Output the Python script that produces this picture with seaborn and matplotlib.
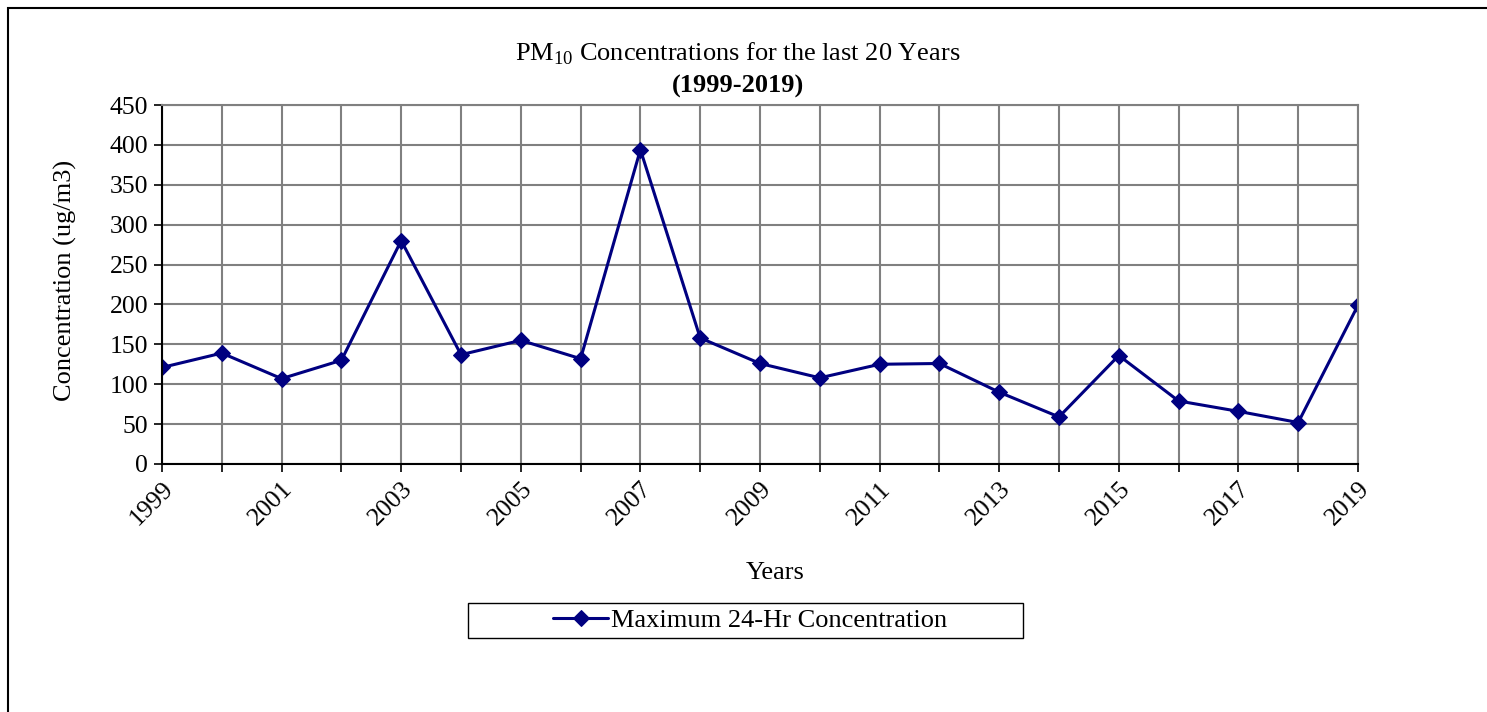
import matplotlib
matplotlib.use("Agg")
import matplotlib.pyplot as plt
import seaborn as sns
import pandas as pd
from matplotlib.patches import Rectangle

years = list(range(1999, 2020))
max_24hr = [121, 139, 107, 130, 280, 137, 155, 132, 394, 158, 126,
            108, 125, 126, 90, 59, 136, 79, 66, 52, 199]
series_label = "Maximum 24-Hr Concentration"

df = pd.DataFrame({"Year": years, "Conc": max_24hr})

sns.set_style("white")
plt.rcParams["font.family"] = ["Liberation Serif", "DejaVu Serif"]
plt.rcParams["mathtext.fontset"] = "custom"
plt.rcParams["mathtext.rm"] = "Liberation Serif"
plt.rcParams["text.color"] = "black"
plt.rcParams["axes.labelcolor"] = "black"
plt.rcParams["xtick.color"] = "black"
plt.rcParams["ytick.color"] = "black"

W, H = 1487, 712
fig = plt.figure(figsize=(W / 100, H / 100), dpi=100)
ax = fig.add_axes([162 / W, 1 - 464 / H, (1358 - 162) / W, (464 - 105) / H])

sns.lineplot(data=df, x="Year", y="Conc", ax=ax, color="#000080", linewidth=2.2,
             marker="D", markersize=8, markeredgecolor="#000080", label=series_label)

ax.set_xlim(1999, 2019)
ax.set_ylim(0, 450)
ax.set_yticks(range(0, 451, 50))
ax.set_xticks(years)
ax.set_xticklabels([str(y) if (y - 1999) % 2 == 0 else "" for y in years],
                   rotation=45, ha="right", rotation_mode="anchor")
ax.grid(True, color="#808080", linewidth=1.5)
ax.set_axisbelow(True)
ax.tick_params(axis="both", direction="out", length=6, width=1.2, colors="black",
               labelsize=18.5, bottom=True, left=True, pad=4)
for s in ["left", "bottom"]:
    ax.spines[s].set_color("black")
    ax.spines[s].set_linewidth(1.5)
for s in ["top", "right"]:
    ax.spines[s].set_color("#808080")
    ax.spines[s].set_linewidth(1.5)

ax.set_xlabel("")
ax.set_ylabel("")
fig.text(775 / W, 1 - 573 / H, "Years", ha="center", va="center", fontsize=19)
fig.text(65 / W, 1 - 280 / H, "Concentration (ug/m3)", ha="center", va="center",
         rotation=90, fontsize=19)

fig.text(738 / W, 1 - 54 / H, r"PM$_{10}$ Concentrations for the last 20 Years",
         ha="center", va="center", fontsize=19)
fig.text(738 / W, 1 - 86 / H, "(1999-2019)", ha="center", va="center",
         fontsize=19, fontweight="bold")

ax.get_legend().remove()
handles, labels = ax.get_legend_handles_labels()
fig.legend(handles, labels, loc="center", bbox_to_anchor=(750 / W, 1 - 620 / H),
           fontsize=19, frameon=False, handlelength=2.1, handletextpad=0.1)
fig.patches.append(Rectangle((468 / W, 1 - 638 / H), (1023 - 468) / W, 35 / H,
                             transform=fig.transFigure, fill=False,
                             edgecolor="black", linewidth=1.0))

fig.patches.append(Rectangle((8 / W, -0.05), 1.1, 1 - 8 / H + 0.05,
                             transform=fig.transFigure, fill=False,
                             edgecolor="black", linewidth=1.5))

fig.savefig("out.png", dpi=100)
